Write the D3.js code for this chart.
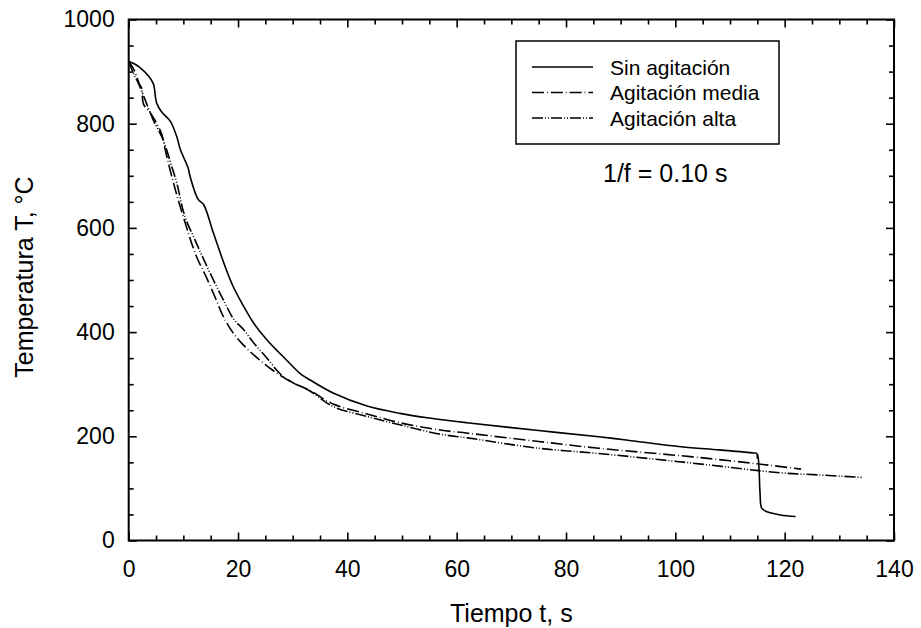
<!DOCTYPE html>
<html>
<head>
<meta charset="utf-8">
<script src="https://cdn.jsdelivr.net/npm/d3@7"></script>
<style>
  html, body { margin: 0; padding: 0; background: #fff; }
  svg { display: block; font-family: "Liberation Sans", Arial, Helvetica, sans-serif; }
</style>
</head>
<body>
<svg id="chart" width="921" height="628"></svg>
<script>
// ---- data ----
const xTickValues = [0, 20, 40, 60, 80, 100, 120, 140];
const yTickValues = [0, 200, 400, 600, 800, 1000];
const seriesNames = ["Sin agitación", "Agitación media", "Agitación alta"];

const sinTime = [0, 1, 2, 3.5, 4.5, 5.1, 6.0, 7.6, 8.8, 9.4, 10.9, 11.2, 12.7, 13.7, 15.5, 17.6, 19, 21, 23, 25.3, 28.9, 31.3, 33.2, 37.4, 43.6, 49.6, 55, 61.9, 75, 86, 91, 101, 108, 114.3, 114.9, 115.0, 115.1, 115.3, 115.5, 115.8, 116.8, 119.2, 122];
const sinTemp = [920, 915, 908, 893, 877, 840, 823, 805, 775, 752, 714, 700, 655, 645, 590, 527, 490, 450, 415, 385, 346, 321, 308, 283, 258, 244, 235, 226, 211, 199, 193, 180, 174, 168, 167, 158, 165, 140, 90, 62, 55, 49, 46];

const mediaTime = [0, 1.0, 2.0, 2.4, 2.7, 4.2, 6.0, 6.7, 8.2, 10.0, 12.4, 14, 16, 17.3, 19, 21, 24, 27, 30, 33, 37.4, 43.6, 49.6, 57, 62, 75, 86, 102.7, 110, 116, 123];
const mediaTemp = [920, 903, 875, 868, 838, 817, 781, 749, 686, 621, 545, 510, 462, 430, 400, 375, 346, 322, 303, 289, 262, 243, 226, 212, 206, 190, 177, 161, 153, 146, 137];

const altaTime = [0, 0.85, 1.8, 3.6, 4.5, 6.3, 7.9, 8.8, 10.3, 12, 13.7, 15.5, 17.5, 19.2, 21, 22.8, 25.3, 27.7, 30, 33, 37.4, 43.6, 49.6, 57, 62, 75, 86, 102.7, 119.2, 126, 134.2];
const altaTemp = [920, 897, 877, 830, 807, 769, 717, 686, 621, 580, 540, 500, 458, 425, 405, 380, 350, 320, 303, 288, 257, 238, 222, 204, 197, 177, 167, 149, 130, 126, 121];

// ---- layout ----
const X0 = 128.7, X1 = 894, Y0 = 19.5, Y1 = 540.5;

const svg = d3.select("#chart");
const x = d3.scaleLinear().domain([0, 140]).range([X0, X1]);
const y = d3.scaleLinear().domain([0, 1000]).range([Y1, Y0]);

const xMinor = d3.range(0, 141, 5).filter(v => v % 20 !== 0);
const yMinor = d3.range(0, 1001, 50).filter(v => v % 200 !== 0);

function styleAxis(g) {
  g.select(".domain").remove();
  g.selectAll(".tick line").attr("stroke", "#000").attr("stroke-width", 1.6);
}
function styleLabels(g) {
  g.selectAll("text").attr("font-size", 23).attr("fill", "#000")
    .attr("font-family", "Liberation Sans, Arial, sans-serif");
}

// bottom axis (labels)
svg.append("g").attr("transform", `translate(0,${Y1})`)
  .call(d3.axisBottom(x).tickValues(xTickValues).tickSizeInner(-8).tickSizeOuter(0).tickPadding(20).tickFormat(d3.format("d")))
  .call(styleAxis).call(styleLabels);
svg.append("g").attr("transform", `translate(0,${Y1})`)
  .call(d3.axisBottom(x).tickValues(xMinor).tickSizeInner(-5).tickSizeOuter(0).tickFormat(""))
  .call(styleAxis);
// top axis ticks
svg.append("g").attr("transform", `translate(0,${Y0})`)
  .call(d3.axisTop(x).tickValues(xTickValues).tickSizeInner(-8).tickSizeOuter(0).tickFormat(""))
  .call(styleAxis);
svg.append("g").attr("transform", `translate(0,${Y0})`)
  .call(d3.axisTop(x).tickValues(xMinor).tickSizeInner(-5).tickSizeOuter(0).tickFormat(""))
  .call(styleAxis);
// left axis (labels)
svg.append("g").attr("transform", `translate(${X0},0)`)
  .call(d3.axisLeft(y).tickValues(yTickValues).tickSizeInner(-8).tickSizeOuter(0).tickPadding(14).tickFormat(d3.format("d")))
  .call(styleAxis).call(styleLabels);
svg.append("g").attr("transform", `translate(${X0},0)`)
  .call(d3.axisLeft(y).tickValues(yMinor).tickSizeInner(-5).tickSizeOuter(0).tickFormat(""))
  .call(styleAxis);
// right axis ticks
svg.append("g").attr("transform", `translate(${X1},0)`)
  .call(d3.axisRight(y).tickValues(yTickValues).tickSizeInner(-8).tickSizeOuter(0).tickFormat(""))
  .call(styleAxis);
svg.append("g").attr("transform", `translate(${X1},0)`)
  .call(d3.axisRight(y).tickValues(yMinor).tickSizeInner(-5).tickSizeOuter(0).tickFormat(""))
  .call(styleAxis);

// frame
svg.append("rect").attr("x", X0).attr("y", Y0).attr("width", X1 - X0).attr("height", Y1 - Y0)
  .attr("fill", "none").attr("stroke", "#000").attr("stroke-width", 2);

// series
const dashes = ["none", "12,3,0.8,3", "11,2,1,2,1,2"];
const series = [
  { name: seriesNames[0], t: sinTime, v: sinTemp, dash: dashes[0] },
  { name: seriesNames[1], t: mediaTime, v: mediaTemp, dash: dashes[1] },
  { name: seriesNames[2], t: altaTime, v: altaTemp, dash: dashes[2] }
];
const line = d3.line().x(d => x(d[0])).y(d => y(d[1])).curve(d3.curveCatmullRom.alpha(0.5));
series.forEach(s => {
  const pts = s.t.map((t, i) => [t, s.v[i]]);
  svg.append("path").datum(pts)
    .attr("d", line)
    .attr("fill", "none").attr("stroke", "#000").attr("stroke-width", 1.6)
    .attr("stroke-dasharray", s.dash).attr("stroke-linejoin", "round");
});

// legend
const lg = svg.append("g");
lg.append("rect").attr("x", 516).attr("y", 41).attr("width", 263).attr("height", 103)
  .attr("fill", "#fff").attr("stroke", "#000").attr("stroke-width", 1.5);
series.forEach((s, i) => {
  const yy = 67 + i * 25.5;
  lg.append("line").attr("x1", 532).attr("x2", 593).attr("y1", yy).attr("y2", yy)
    .attr("stroke", "#000").attr("stroke-width", 1.6).attr("stroke-dasharray", s.dash);
  lg.append("text").attr("x", 610).attr("y", yy + 7.5).attr("font-size", 21).attr("fill", "#000").text(s.name);
});

// annotation
svg.append("text").attr("x", 603).attr("y", 181.5).attr("font-size", 25).attr("fill", "#000").text("1/f = 0.10 s");

// axis titles
svg.append("text").attr("x", (X0 + X1) / 2).attr("y", 621.5).attr("text-anchor", "middle")
  .attr("font-size", 25).attr("fill", "#000").text("Tiempo t, s");
svg.append("text").attr("transform", `translate(33,${(Y0 + Y1) / 2 - 3}) rotate(-90)`).attr("text-anchor", "middle")
  .attr("font-size", 25).attr("fill", "#000").text("Temperatura T, °C");
</script>
</body>
</html>
